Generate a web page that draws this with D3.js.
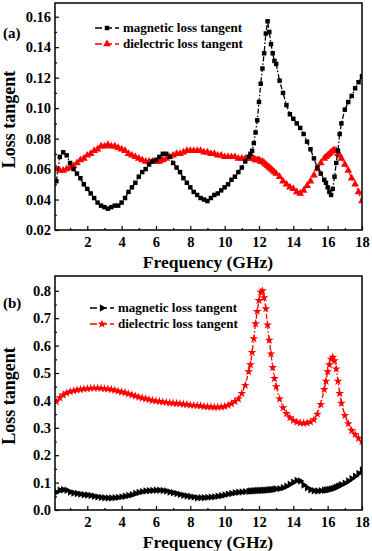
<!DOCTYPE html>
<html>
<head>
<meta charset="utf-8">
<script src="https://cdn.jsdelivr.net/npm/d3@7"></script>
<style>
  body { margin: 0; background: #fff; }
  svg { display: block; }
  text { font-family: "Liberation Serif", "Times New Roman", serif; font-weight: bold; }
</style>
</head>
<body>
<div id="chart"></div>
<script>
// frequency (GHz) shared by all four curves
const freq = [0.2,0.4,0.6,0.8,1.0,1.2,1.4,1.6,1.8,2.0,2.2,2.4,2.6,2.8,3.0,3.2,3.4,3.6,3.8,4.0,
  4.2,4.4,4.6,4.8,5.0,5.2,5.4,5.6,5.8,6.0,6.2,6.4,6.6,6.8,7.0,7.2,7.4,7.6,7.8,8.0,
  8.2,8.4,8.6,8.8,9.0,9.2,9.4,9.6,9.8,10.0,10.2,10.4,10.6,10.8,11.0,11.2,11.4,
  11.5,11.6,11.7,11.8,11.9,12.0,12.1,12.2,12.3,12.4,12.5,12.6,12.7,12.8,12.9,13.0,
  13.2,13.4,13.6,13.8,14.0,14.2,14.4,14.6,14.8,15.0,15.2,15.4,15.6,15.8,
  15.9,16.0,16.1,16.2,16.3,16.4,16.5,16.6,16.7,16.8,
  17.0,17.2,17.4,17.6,17.8,18.0];

// panel (a)
const magneticA = [.052,.068,.071,.069,.064,.060,.057,.054,.050,.047,
  .044,.041,.038,.036,.035,.034,.035,.036,.036,.038,
  .041,.045,.048,.051,.055,.058,.060,.063,.065,.066,
  .068,.070,.070,.068,.064,.061,.058,.054,.051,.048,
  .045,.043,.041,.040,.039,.041,.043,.044,.046,.048,
  .050,.053,.055,.058,.061,.065,.068,
  .070,.072,.077,.084,.092,.104,.116,.126,.136,.149,.157,.150,.142,.136,.131,.129,
  .118,.110,.102,.096,.093,.090,.087,.083,.078,.073,.067,.061,.057,.053,
  .051,.048,.045,.043,.047,.055,.064,.072,.083,.090,
  .099,.104,.108,.113,.117,.121];
const dielectricA = [.060,.059,.059,.060,.061,.062,.064,.066,.067,.069,
  .070,.072,.073,.075,.075,.076,.075,.075,.074,.073,
  .072,.070,.069,.068,.067,.066,.065,.065,.065,.065,
  .065,.066,.067,.068,.069,.070,.070,.071,.072,.072,
  .072,.072,.072,.071,.071,.070,.070,.069,.069,.068,
  .068,.068,.068,.067,.067,.067,.067,
  .067,.067,.067,.066,.066,.066,.065,.065,.064,.063,.062,.061,.060,.059,.058,.057,
  .055,.052,.050,.048,.047,.045,.044,.046,.049,.052,.056,.060,.064,.067,
  .068,.069,.070,.071,.072,.0725,.072,.070,.069,.067,
  .063,.059,.054,.050,.045,.039];

// panel (b)
const magneticB = [.065,.072,.074,.072,.066,.062,.060,.058,.056,.055,
  .053,.050,.048,.046,.045,.044,.044,.045,.046,.048,
  .050,.053,.056,.060,.064,.067,.069,.070,.071,.072,
  .072,.071,.069,.066,.063,.060,.057,.054,.051,.049,
  .047,.045,.045,.045,.046,.047,.048,.050,.052,.055,
  .058,.060,.063,.065,.066,.067,.068,
  .069,.069,.070,.070,.071,.071,.071,.072,.072,.072,.073,.074,.074,.075,.076,.077,
  .078,.081,.087,.094,.101,.108,.106,.091,.081,.074,.070,.069,.070,.072,
  .073,.074,.075,.077,.078,.080,.083,.086,.089,.092,
  .098,.106,.114,.123,.133,.146];
const dielectricB = [.395,.410,.420,.427,.432,.435,.438,.440,.442,.443,
  .444,.445,.445,.444,.443,.442,.440,.437,.434,.431,
  .428,.424,.420,.416,.412,.409,.406,.403,.400,.398,
  .396,.394,.393,.391,.390,.389,.388,.386,.385,.383,
  .382,.381,.380,.378,.377,.376,.375,.375,.376,.378,
  .382,.388,.396,.405,.425,.455,.505,
  .530,.575,.625,.680,.725,.765,.795,.800,.775,.735,.675,.620,.570,.520,.480,.450,
  .405,.373,.352,.337,.327,.321,.318,.317,.318,.321,.330,.350,.385,.440,
  .470,.505,.530,.550,.558,.545,.515,.470,.425,.390,
  .345,.315,.290,.276,.262,.250];

const seriesNames = ["magnetic loss tangent", "dielectric loss tangent"];
const xTicks = [2, 4, 6, 8, 10, 12, 14, 16, 18];
const xMinor = [1, 3, 5, 7, 9, 11, 13, 15, 17];
const yTicksA = [0.02, 0.04, 0.06, 0.08, 0.10, 0.12, 0.14, 0.16];
const yMinorA = [0.03, 0.05, 0.07, 0.09, 0.11, 0.13, 0.15];
const yTicksB = [0.0, 0.1, 0.2, 0.3, 0.4, 0.5, 0.6, 0.7, 0.8];
const yMinorB = [0.05, 0.15, 0.25, 0.35, 0.45, 0.55, 0.65, 0.75];

const width = 372, height = 551;
const svg = d3.select("#chart").append("svg")
  .attr("width", width)
  .attr("height", height);

// one panel: frame, ticks, two curves, legend
function panel(opt) {
  const x = d3.scaleLinear().domain([0.12, 18]).range([55, 362]);
  const y = d3.scaleLinear().domain(opt.yDomain).range([opt.bottom, opt.top]);
  const g = svg.append("g");

  const clipId = "clip-" + opt.tag.replace(/\W/g, "");
  g.append("clipPath").attr("id", clipId).append("rect")
    .attr("x", 55).attr("y", opt.top).attr("width", 307).attr("height", opt.bottom - opt.top);

  // x axis (ticks inward)
  g.append("g")
    .attr("transform", `translate(0,${opt.bottom})`)
    .call(d3.axisBottom(x).tickValues(xTicks).tickSizeInner(-4).tickSizeOuter(0).tickPadding(7).tickFormat(d3.format("d")))
    .call(a => a.select(".domain").remove())
    .call(a => a.selectAll("text").attr("font-size", 14.5).attr("fill", "#000").attr("font-family", null));
  g.append("g")
    .attr("transform", `translate(0,${opt.bottom})`)
    .call(d3.axisBottom(x).tickValues(xMinor).tickSizeInner(-2).tickSizeOuter(0).tickFormat(""))
    .call(a => a.select(".domain").remove());

  // y axis
  g.append("g")
    .attr("transform", "translate(55,0)")
    .call(d3.axisLeft(y).tickValues(opt.yTicks).tickSizeInner(-4).tickSizeOuter(0).tickPadding(4).tickFormat(d3.format(opt.yFormat)))
    .call(a => a.select(".domain").remove())
    .call(a => a.selectAll("text").attr("font-size", 14.5).attr("fill", "#000").attr("font-family", null));
  g.append("g")
    .attr("transform", "translate(55,0)")
    .call(d3.axisLeft(y).tickValues(opt.yMinor).tickSizeInner(-2).tickSizeOuter(0).tickFormat(""))
    .call(a => a.select(".domain").remove());

  g.selectAll(".tick line").attr("stroke", "#000").attr("stroke-width", 1.2);

  // axis titles
  g.append("text")
    .attr("x", 208).attr("y", opt.bottom + 38)
    .attr("text-anchor", "middle").attr("font-size", 17.5)
    .text("Frequency (GHz)");
  g.append("text")
    .attr("transform", `translate(15,${(opt.top + opt.bottom) / 2 + 3}) rotate(-90)`)
    .attr("text-anchor", "middle").attr("font-size", 18)
    .text("Loss tangent");
  g.append("text")
    .attr("x", 3).attr("y", opt.labelY)
    .attr("font-size", 15)
    .text(opt.tag);

  // curves
  const plot = g.append("g").attr("clip-path", `url(#${clipId})`);
  opt.series.forEach(s => {
    const pts = freq.map((f, i) => [f, s.values[i]]);
    plot.append("path")
      .datum(pts)
      .attr("fill", "none")
      .attr("stroke", s.color)
      .attr("stroke-width", 1.3)
      .attr("stroke-dasharray", "5,2,1.5,2")
      .attr("d", d3.line().x(d => x(d[0])).y(d => y(d[1])));
    plot.append("g").selectAll("path")
      .data(pts)
      .join("path")
      .attr("transform", d => `translate(${x(d[0])},${y(d[1])})${s.rotate ? " rotate(" + s.rotate + ")" : ""}`)
      .attr("d", d3.symbol().type(s.symbol).size(s.size))
      .attr("fill", s.color);
  });

  // frame
  g.append("rect")
    .attr("x", 55).attr("y", opt.top)
    .attr("width", 307).attr("height", opt.bottom - opt.top)
    .attr("fill", "none").attr("stroke", "#000").attr("stroke-width", 1.5);

  // legend
  const leg = g.append("g");
  opt.legendOrder.forEach((k, i) => {
    const s = opt.series[k];
    const ly = opt.legendY + i * 16;
    leg.append("line")
      .attr("x1", opt.legendX).attr("x2", opt.legendX + 24)
      .attr("y1", ly).attr("y2", ly)
      .attr("stroke", s.color).attr("stroke-width", 1.6)
      .attr("stroke-dasharray", "7,3");
    leg.append("path")
      .attr("transform", `translate(${opt.legendX + 12},${ly})${s.rotate ? " rotate(" + s.rotate + ")" : ""}`)
      .attr("d", d3.symbol().type(s.symbol).size(s.size))
      .attr("fill", s.color);
    leg.append("text")
      .attr("x", opt.legendX + 28).attr("y", ly + 4)
      .attr("font-size", 13)
      .text(seriesNames[s.nameIndex]);
  });
}

panel({
  tag: "(a)", top: 3, bottom: 230, yDomain: [0.02, 0.169],
  yTicks: yTicksA, yMinor: yMinorA, yFormat: ".2f", labelY: 38,
  legendX: 95, legendY: 28, legendOrder: [1, 0],
  series: [
    { values: dielectricA, color: "#ff0000", symbol: d3.symbolTriangle, size: 26, nameIndex: 1 },
    { values: magneticA, color: "#000000", symbol: d3.symbolSquare, size: 20, nameIndex: 0 }
  ]
});

panel({
  tag: "(b)", top: 276, bottom: 510, yDomain: [0, 0.854],
  yTicks: yTicksB, yMinor: yMinorB, yFormat: ".1f", labelY: 308,
  legendX: 90, legendY: 308, legendOrder: [0, 1],
  series: [
    { values: magneticB, color: "#000000", symbol: d3.symbolTriangle, size: 24, rotate: 90, nameIndex: 0 },
    { values: dielectricB, color: "#ff0000", symbol: d3.symbolStar, size: 24, nameIndex: 1 }
  ]
});
</script>
</body>
</html>
